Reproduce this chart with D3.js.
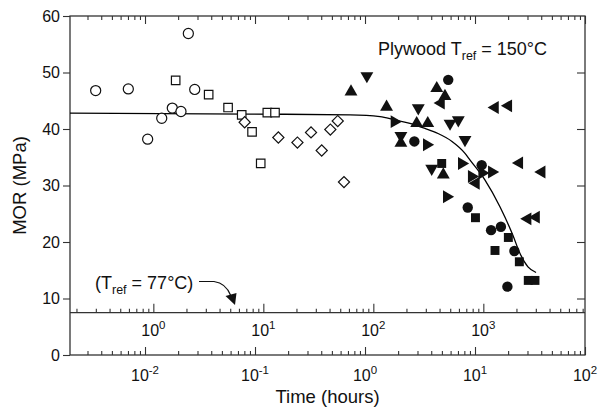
<!DOCTYPE html>
<html>
<head>
<meta charset="utf-8">
<script src="https://cdn.jsdelivr.net/npm/d3@7"></script>
<style>
  body { margin: 0; background: #fff; }
  text { font-family: "Liberation Sans", Arial, Helvetica, sans-serif; fill: #111; }
</style>
</head>
<body>
<div class="mor-chart"></div>
<script>

// time (hours, at Tref = 150C) and MOR (MPa)
var openCircleT   = [0.00356, 0.00705, 0.01057, 0.01419, 0.0177, 0.02123, 0.02477, 0.02831];
var openCircleMOR = [46.8, 47.1, 38.2, 41.9, 43.7, 43.1, 56.9, 47.0];

var openSquareT   = [0.019, 0.0379, 0.0569, 0.0757, 0.094, 0.1127, 0.1294, 0.152];
var openSquareMOR = [48.6, 46.1, 43.8, 42.5, 39.5, 33.9, 42.9, 42.9];

var openDiamondT   = [0.0805, 0.163, 0.243, 0.323, 0.404, 0.484, 0.565, 0.644];
var openDiamondMOR = [41.2, 38.5, 37.6, 39.4, 36.2, 39.9, 41.4, 30.6];

var triUpT   = [0.746, 1.57, 4.49, 5.33, 2.95, 3.72, 5.15, 2.12];
var triUpMOR = [46.6, 43.9, 47.2, 45.8, 41.0, 41.0, 31.9, 37.5];

var triDownT   = [1.04, 3.05, 5.93, 7.05, 8.11, 4.04, 2.12];
var triDownMOR = [49.4, 43.7, 41.0, 41.6, 38.1, 33.0, 38.8];

var triRightT   = [1.85, 3.64, 7.57, 9.33, 14.2, 5.53, 11.6];
var triRightMOR = [41.3, 37.2, 33.9, 31.6, 32.4, 28.0, 32.2];

var triLeftT   = [4.91, 15.2, 20.1, 10.2, 25.3, 40.4, 30.1, 35.9];
var triLeftMOR = [44.6, 43.8, 44.1, 30.4, 34.0, 32.4, 24.1, 24.4];

var dotT   = [5.71, 2.81, 11.5, 8.59, 14.0, 17.2, 22.8, 19.7];
var dotMOR = [48.7, 37.8, 33.6, 26.1, 22.1, 22.7, 18.4, 12.1];

var blockT   = [4.98, 10.1, 20.1, 15.2, 25.3, 30.5, 35.1];
var blockMOR = [33.9, 24.3, 20.8, 18.5, 16.5, 13.2, 13.2];

// fitted master curve
var curveT   = [0.00208, 0.0902, 0.731, 1.37, 1.87, 2.56, 3.51, 4.61, 6.18, 8.11, 9.02, 12.3, 16.9, 22.1, 25.6, 30.3, 35.9];
var curveMOR = [42.8, 42.65, 42.5, 42.2, 41.6, 41.0, 40.1, 39.2, 37.8, 35.7, 34.5, 31.0, 26.2, 21.2, 18.0, 15.6, 14.6];

// axes
var yTicks = [0, 10, 20, 30, 40, 50, 60];
var bottomMajor = [0.01, 0.1, 1, 10, 100];
var bottomExp = ["-2", "-1", "0", "1", "2"];
var topMajor = [1, 10, 100, 1000];
var topExp = ["0", "1", "2", "3"];
var shiftFactor = 84;      // Tref 150C -> Tref 77C time shift
var innerAxisMOR = 7.5;    // height of the inner (77C) time axis

var width = 599, height = 408;
var margin = {top: 16, right: 14, bottom: 53, left: 70};

var svg = d3.select(".mor-chart").append("svg")
    .attr("width", width)
    .attr("height", height);

var x = d3.scaleLog().domain([0.00208, 100]).range([margin.left, width - margin.right]);
var xTop = d3.scaleLog().domain([0.00208 * shiftFactor, 100 * shiftFactor]).range([margin.left, width - margin.right]);
var y = d3.scaleLinear().domain([0, 60]).range([height - margin.bottom, margin.top]);

function minorsOf(scale) {
    var d = scale.domain(), out = [];
    for (var e = Math.floor(Math.log10(d[0])); e <= Math.ceil(Math.log10(d[1])); e++) {
        for (var m = 2; m <= 9; m++) {
            var v = m * Math.pow(10, e);
            if (v > d[0] && v < d[1]) out.push(v);
        }
    }
    return out;
}

var axisColor = "#333";

function styleAxis(g) {
    g.select(".domain").remove();
    g.selectAll("line").attr("stroke", axisColor).attr("stroke-width", 1.1);
}

// bottom axis (ticks inward)
svg.append("g").attr("transform", "translate(0," + y(0) + ")")
    .call(d3.axisBottom(x).tickValues(minorsOf(x)).tickSize(-4).tickFormat(""))
    .call(styleAxis);
svg.append("g").attr("transform", "translate(0," + y(0) + ")")
    .call(d3.axisBottom(x).tickValues(bottomMajor).tickSize(-8).tickFormat(""))
    .call(styleAxis);

// top frame ticks
svg.append("g").attr("transform", "translate(0," + margin.top + ")")
    .call(d3.axisTop(x).tickValues(minorsOf(x)).tickSize(-4).tickFormat(""))
    .call(styleAxis);
svg.append("g").attr("transform", "translate(0," + margin.top + ")")
    .call(d3.axisTop(x).tickValues(bottomMajor).tickSize(-8).tickFormat(""))
    .call(styleAxis);

// inner 77C axis
svg.append("line")
    .attr("x1", margin.left).attr("x2", width - margin.right)
    .attr("y1", y(innerAxisMOR)).attr("y2", y(innerAxisMOR))
    .attr("stroke", axisColor).attr("stroke-width", 1.3);
svg.append("g").attr("transform", "translate(0," + y(innerAxisMOR) + ")")
    .call(d3.axisBottom(xTop).tickValues(minorsOf(xTop)).tickSize(-4).tickFormat(""))
    .call(styleAxis);
svg.append("g").attr("transform", "translate(0," + y(innerAxisMOR) + ")")
    .call(d3.axisBottom(xTop).tickValues(topMajor).tickSize(-9).tickFormat(""))
    .call(styleAxis);

// left axis (outward ticks + labels)
var yAxis = svg.append("g").attr("transform", "translate(" + margin.left + ",0)")
    .call(d3.axisLeft(y).tickValues(yTicks).tickSize(7).tickPadding(3))
    .call(styleAxis);
yAxis.selectAll("text").attr("font-size", 16).attr("fill", "#111")
    .attr("font-family", "Liberation Sans, Arial, sans-serif");

// right axis (inward ticks)
svg.append("g").attr("transform", "translate(" + (width - margin.right) + ",0)")
    .call(d3.axisRight(y).tickValues([10, 20, 30, 40, 50]).tickSize(-8).tickFormat(""))
    .call(styleAxis);

// frame
svg.append("rect")
    .attr("x", margin.left).attr("y", margin.top)
    .attr("width", width - margin.left - margin.right)
    .attr("height", height - margin.top - margin.bottom)
    .attr("fill", "none").attr("stroke", axisColor).attr("stroke-width", 1.3);

// power-of-ten labels
function powLabels(scale, values, exps, yPos) {
    values.forEach(function(v, i) {
        var t = svg.append("text")
            .attr("x", scale(v)).attr("y", yPos)
            .attr("text-anchor", "middle")
            .attr("font-size", 16);
        t.append("tspan").text("10");
        t.append("tspan").attr("dy", -7).attr("font-size", 11.5).text(exps[i]);
    });
}
powLabels(x, bottomMajor, bottomExp, 381);
powLabels(xTop, topMajor, topExp, 336);

// axis titles
svg.append("text")
    .attr("x", (margin.left + width - margin.right) / 2)
    .attr("y", 403)
    .attr("text-anchor", "middle")
    .attr("font-size", 18.5)
    .text("Time (hours)");

svg.append("text")
    .attr("transform", "translate(26," + ((margin.top + height - margin.bottom) / 2) + ") rotate(-90)")
    .attr("text-anchor", "middle")
    .attr("font-size", 18.5)
    .text("MOR (MPa)");

// curve
var line = d3.line()
    .x(function(d) { return x(d[0]); })
    .y(function(d) { return y(d[1]); })
    .curve(d3.curveMonotoneX);

svg.append("path")
    .datum(d3.zip(curveT, curveMOR))
    .attr("d", line)
    .attr("fill", "none")
    .attr("stroke", "#000")
    .attr("stroke-width", 1.3);

// markers
var series = [
    {t: openCircleT,  mor: openCircleMOR,  shape: d3.symbolCircle,   size: 80, rot: 0,   filled: false},
    {t: openSquareT,  mor: openSquareMOR,  shape: d3.symbolSquare,   size: 72, rot: 0,   filled: false},
    {t: openDiamondT, mor: openDiamondMOR, shape: d3.symbolSquare,   size: 62, rot: 45,  filled: false},
    {t: triUpT,       mor: triUpMOR,       shape: d3.symbolTriangle, size: 72, rot: 0,   filled: true},
    {t: triDownT,     mor: triDownMOR,     shape: d3.symbolTriangle, size: 72, rot: 180, filled: true},
    {t: triRightT,    mor: triRightMOR,    shape: d3.symbolTriangle, size: 72, rot: 90,  filled: true},
    {t: triLeftT,     mor: triLeftMOR,     shape: d3.symbolTriangle, size: 72, rot: -90, filled: true},
    {t: dotT,         mor: dotMOR,         shape: d3.symbolCircle,   size: 85, rot: 0,   filled: true},
    {t: blockT,       mor: blockMOR,       shape: d3.symbolSquare,   size: 80, rot: 0,   filled: true}
];

series.forEach(function(s) {
    var sym = d3.symbol().type(s.shape).size(s.size);
    svg.append("g").selectAll("path")
        .data(d3.zip(s.t, s.mor))
        .enter().append("path")
        .attr("d", sym)
        .attr("transform", function(d) {
            return "translate(" + x(d[0]) + "," + y(d[1]) + ") rotate(" + s.rot + ")";
        })
        .attr("fill", s.filled ? "#111" : "#fff")
        .attr("stroke", "#111")
        .attr("stroke-width", s.filled ? 0 : 1.2);
});

// title
var title = svg.append("text").attr("x", 378).attr("y", 55).attr("font-size", 18);
title.append("tspan").text("Plywood T");
title.append("tspan").attr("dy", 5).attr("font-size", 12.5).text("ref");
title.append("tspan").attr("dy", -5).text(" = 150°C");

// 77C annotation with arrow
var note = svg.append("text").attr("x", 95).attr("y", 289).attr("font-size", 18);
note.append("tspan").text("(T");
note.append("tspan").attr("dy", 5).attr("font-size", 12.5).text("ref");
note.append("tspan").attr("dy", -5).text(" = 77°C)");

svg.append("path")
    .attr("d", "M199,281.5 L214,281.5 Q226,283 231,296")
    .attr("fill", "none").attr("stroke", "#111").attr("stroke-width", 1.2);
svg.append("path")
    .attr("d", "M225.5,296 L236.5,293 L235,305 Z")
    .attr("fill", "#111");

</script>
</body>
</html>
